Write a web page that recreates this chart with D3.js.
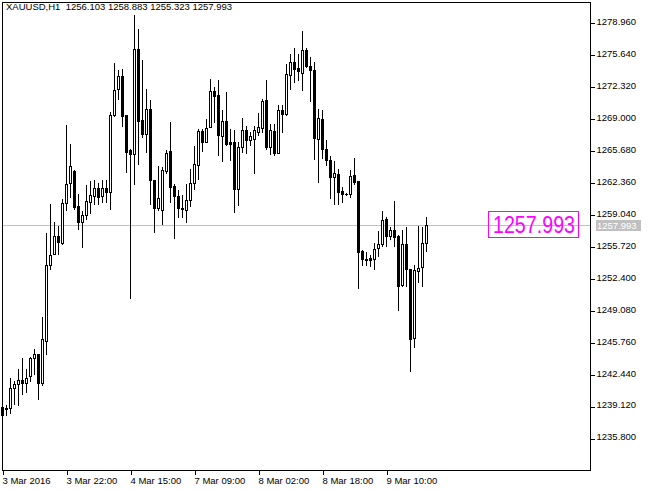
<!DOCTYPE html>
<meta charset="utf-8">
<title>XAUUSD,H1</title>
<style>
body { margin: 0; background: #fff; }
text { font-family: "Liberation Sans", Arial, sans-serif; font-size: 9.5px; white-space: pre; }
</style>
<script src="https://d3js.org/d3.v7.min.js"></script>
<div id="chart"></div>
<script>

var width = 647,
    height = 490,
    frame = {left: 2, top: 2, right: 590, bottom: 470};

// hourly bars, oldest first
var opens = [
  1239.12, 1238.88, 1239.06, 1241.13, 1241.55, 1241.96, 1241.61, 1242.34, 1244.25, 1244.59,
  1241.61, 1245.97, 1253.91, 1255.05, 1256.92, 1256.15, 1260.34, 1262.38, 1263.59, 1259.96,
  1258.33, 1259.02, 1260.41, 1261.03, 1261.90, 1261.03, 1261.90, 1261.44, 1269.48, 1272.14,
  1273.53, 1269.41, 1265.77, 1265.43, 1276.33, 1268.96, 1267.44, 1270.10, 1262.73, 1259.82,
  1259.62, 1263.62, 1265.67, 1262.04, 1261.00, 1259.82, 1259.62, 1260.65, 1262.42, 1264.29,
  1267.75, 1266.64, 1268.19, 1271.90, 1271.49, 1267.26, 1268.79, 1266.60, 1266.60, 1261.80,
  1266.12, 1267.85, 1266.81, 1266.99, 1267.67, 1268.13, 1270.97, 1266.12, 1267.75, 1265.54,
  1270.00, 1269.58, 1273.63, 1274.94, 1274.36, 1273.84, 1276.16, 1274.53, 1274.15, 1266.99,
  1268.99, 1265.95, 1264.81, 1263.00, 1263.35, 1261.52, 1261.20, 1261.20, 1263.18, 1262.55,
  1255.32, 1254.49, 1254.56, 1254.53, 1255.67, 1256.09, 1258.68, 1256.84, 1257.47, 1256.84,
  1251.76, 1256.09, 1253.49, 1246.28, 1253.24, 1253.66, 1256.103
];
var highs = [
  1239.29, 1239.29, 1242.17, 1241.82, 1243.03, 1244.25, 1243.11, 1244.31, 1245.18, 1244.59,
  1248.46, 1257.19, 1260.24, 1258.33, 1257.88, 1260.76, 1268.37, 1266.47, 1263.70, 1261.21,
  1259.44, 1262.14, 1262.55, 1262.73, 1262.38, 1262.73, 1262.66, 1269.75, 1274.84, 1274.08,
  1274.26, 1269.41, 1265.95, 1279.79, 1278.41, 1275.12, 1272.18, 1271.04, 1262.73, 1264.11,
  1264.04, 1265.77, 1268.71, 1262.32, 1261.62, 1261.10, 1262.24, 1263.87, 1266.19, 1268.03,
  1268.03, 1268.99, 1273.22, 1272.35, 1273.04, 1269.93, 1271.83, 1267.95, 1267.85, 1266.64,
  1269.17, 1268.27, 1267.67, 1268.27, 1269.69, 1271.07, 1273.04, 1268.47, 1268.47, 1270.45,
  1270.45, 1274.78, 1275.82, 1276.44, 1275.82, 1278.13, 1276.44, 1275.46, 1274.94, 1270.10,
  1269.93, 1266.88, 1265.15, 1264.63, 1263.80, 1261.96, 1261.30, 1263.70, 1264.97, 1262.55,
  1255.39, 1255.21, 1254.87, 1256.15, 1257.36, 1259.44, 1258.85, 1257.81, 1260.48, 1256.95,
  1257.47, 1257.81, 1253.49, 1253.83, 1257.88, 1257.81, 1258.883
];
var lows = [
  1237.91, 1238.26, 1238.50, 1239.47, 1239.29, 1240.44, 1240.68, 1241.82, 1242.59, 1239.92,
  1241.37, 1244.66, 1253.42, 1255.05, 1255.05, 1256.01, 1259.54, 1260.92, 1259.70, 1257.64,
  1255.73, 1258.68, 1259.30, 1260.24, 1260.24, 1260.41, 1260.41, 1259.65, 1269.30, 1271.07,
  1268.27, 1263.52, 1250.48, 1262.32, 1264.32, 1267.16, 1265.60, 1260.24, 1257.29, 1259.62,
  1258.16, 1263.39, 1260.41, 1256.67, 1258.85, 1258.85, 1258.33, 1259.99, 1261.80, 1262.84,
  1265.70, 1266.64, 1268.19, 1268.71, 1265.25, 1264.66, 1266.29, 1264.81, 1259.37, 1260.06,
  1265.60, 1265.49, 1266.29, 1263.42, 1267.33, 1267.67, 1265.95, 1265.43, 1265.25, 1265.54,
  1267.67, 1269.41, 1272.18, 1272.87, 1273.12, 1272.00, 1274.42, 1270.89, 1264.91, 1262.48,
  1265.02, 1264.22, 1260.86, 1260.24, 1260.24, 1260.41, 1261.10, 1260.92, 1262.32, 1251.52,
  1253.83, 1253.83, 1253.73, 1253.49, 1254.77, 1255.81, 1255.81, 1256.61, 1255.81, 1249.23,
  1251.65, 1251.65, 1242.86, 1245.35, 1252.10, 1251.65, 1255.323
];
var closes = [
  1238.26, 1239.03, 1241.13, 1241.48, 1241.96, 1241.61, 1242.17, 1244.25, 1244.59, 1241.61,
  1246.22, 1253.91, 1254.87, 1256.92, 1256.25, 1260.34, 1262.32, 1264.11, 1259.89, 1258.33,
  1259.02, 1260.48, 1261.10, 1261.90, 1260.92, 1261.90, 1261.44, 1269.48, 1272.08, 1273.53,
  1269.30, 1265.60, 1265.43, 1276.33, 1268.82, 1267.44, 1270.10, 1262.73, 1259.82, 1260.86,
  1263.70, 1265.54, 1261.96, 1261.03, 1259.78, 1259.68, 1260.65, 1262.42, 1264.39, 1267.75,
  1266.64, 1268.13, 1271.90, 1271.41, 1267.33, 1268.79, 1266.47, 1266.40, 1261.80, 1266.12,
  1267.85, 1266.81, 1267.23, 1267.85, 1268.19, 1270.89, 1266.12, 1267.85, 1265.54, 1270.00,
  1269.58, 1273.74, 1274.94, 1274.26, 1274.01, 1276.16, 1274.53, 1274.08, 1267.09, 1269.17,
  1265.95, 1264.74, 1263.00, 1263.46, 1261.44, 1261.28, 1261.20, 1263.07, 1262.48, 1255.21,
  1254.53, 1254.35, 1254.35, 1255.57, 1256.09, 1258.58, 1256.84, 1257.54, 1256.77, 1251.68,
  1256.09, 1253.49, 1246.22, 1253.31, 1253.59, 1256.15, 1257.993
];

var priceTicks = [1278.960, 1275.640, 1272.320, 1269.000, 1265.680, 1262.360, 1259.040,
                  1255.720, 1252.400, 1249.080, 1245.760, 1242.440, 1239.120, 1235.800];
var timeIdx = [1, 17, 33, 49, 65, 81, 97];
var timeLabels = ["3 Mar 2016", "3 Mar 22:00", "4 Mar 15:00", "7 Mar 09:00",
                  "8 Mar 02:00", "8 Mar 18:00", "9 Mar 10:00"];
var symbol = "XAUUSD,H1";

var n = closes.length,
    last = n - 1;

var bars = d3.range(n).map(function(i) {
  return {i: i + 1, o: opens[i], h: highs[i], l: lows[i], c: closes[i]};
});

var svg = d3.select("#chart").append("svg")
    .attr("width", width)
    .attr("height", height)
    .attr("shape-rendering", "crispEdges");

var x = d3.scaleLinear()
    .domain([1, n])
    .range([2.5, 2.5 + (n - 1) * 4]);

var y = d3.scaleLinear()
    .domain([1235.8, 1278.96])
    .range([439, 23.4]);

var py = function(v) { return Math.round(y(v)); };

// current price line
svg.append("rect")
    .attr("x", frame.left)
    .attr("y", py(closes[last]))
    .attr("width", frame.right - frame.left)
    .attr("height", 1)
    .attr("fill", "#c0c0c0");

// candles
var candle = svg.append("g").selectAll("g")
    .data(bars)
    .enter().append("g");

candle.append("rect")
    .attr("x", function(d) { return x(d.i) - 0.5; })
    .attr("y", function(d) { return py(d.h); })
    .attr("width", 1)
    .attr("height", function(d) { return py(d.l) - py(d.h) + 1; })
    .attr("fill", "#000");

candle.append("rect")
    .attr("x", function(d) { return x(d.i) - 1.5; })
    .attr("y", function(d) { return py(Math.max(d.o, d.c)); })
    .attr("width", 3)
    .attr("height", function(d) { return py(Math.min(d.o, d.c)) - py(Math.max(d.o, d.c)) + 1; })
    .attr("fill", "#000");

candle.filter(function(d) {
    return d.c > d.o && py(d.o) - py(d.c) >= 2;
  }).append("rect")
    .attr("x", function(d) { return x(d.i) - 0.5; })
    .attr("y", function(d) { return py(d.c) + 1; })
    .attr("width", 1)
    .attr("height", function(d) { return py(d.o) - py(d.c) - 1; })
    .attr("fill", "#fff");

// frame
svg.append("rect")
    .attr("x", frame.left + 0.5)
    .attr("y", frame.top + 0.5)
    .attr("width", frame.right - frame.left)
    .attr("height", frame.bottom - frame.top)
    .attr("fill", "none")
    .attr("stroke", "#000");

// price axis
var yAxis = svg.append("g")
    .attr("transform", "translate(" + (frame.right + 0.5) + ",0)")
    .call(d3.axisRight(y)
        .tickValues(priceTicks)
        .tickSize(4)
        .tickPadding(2)
        .tickFormat(d3.format(".3f")));
yAxis.select(".domain").remove();
yAxis.selectAll("text")
    .attr("dy", "0.1em")
    .attr("font-size", null).attr("font-family", null).attr("fill", "#000");
yAxis.selectAll("line").attr("stroke", "#000");

// time axis
var xAxis = svg.append("g")
    .attr("transform", "translate(0," + (frame.bottom + 0.5) + ")")
    .call(d3.axisBottom(x)
        .tickValues(timeIdx)
        .tickSize(4)
        .tickPadding(3)
        .tickFormat(function(d, i) { return timeLabels[i]; }));
xAxis.select(".domain").remove();
xAxis.selectAll("text")
    .attr("text-anchor", "start")
    .attr("dx", -0.5)
    .attr("font-size", null).attr("font-family", null).attr("fill", "#000");
xAxis.selectAll("line").attr("stroke", "#000");

// header
svg.append("text")
    .attr("x", 6)
    .attr("y", 10)
    .text(symbol + "  " + [opens[last], highs[last], lows[last], closes[last]]
        .map(d3.format(".3f")).join(" "));

// bid label on the axis
var ly = py(closes[last]);
svg.append("rect")
    .attr("x", frame.right + 6)
    .attr("y", ly - 5)
    .attr("width", 45)
    .attr("height", 11)
    .attr("fill", "#c0c0c0");
svg.append("text")
    .attr("x", frame.right + 7)
    .attr("y", ly + 4)
    .attr("fill", "#fff")
    .text(d3.format(".3f")(closes[last]));

// big magenta price label
svg.append("rect")
    .attr("x", 488.5)
    .attr("y", ly - 13.5)
    .attr("width", 90)
    .attr("height", 26)
    .attr("fill", "none")
    .attr("stroke", "#ff00ff");
svg.append("text")
    .attr("x", 493)
    .attr("y", ly + 8)
    .attr("fill", "#ff00ff")
    .style("font-size", "23px")
    .attr("textLength", 82)
    .attr("lengthAdjust", "spacingAndGlyphs")
    .text(d3.format(".3f")(closes[last]));

</script>
